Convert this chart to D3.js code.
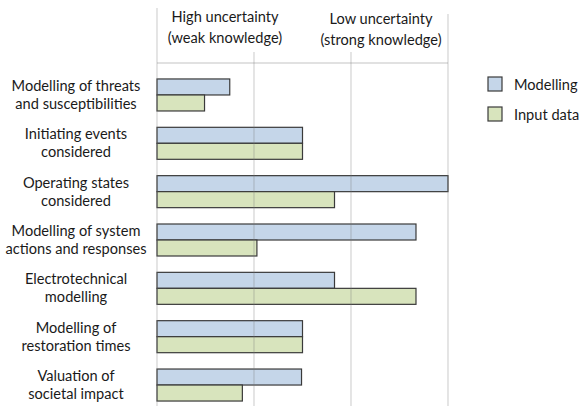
<!DOCTYPE html>
<html>
<head>
<meta charset="utf-8">
<script src="https://cdn.jsdelivr.net/npm/d3@7"></script>
<style>
  html, body { margin: 0; padding: 0; background: #fff; }
  svg { display: block; font-family: Lato, "Open Sans", sans-serif; }
</style>
</head>
<body>
<svg id="chart" width="581" height="406"></svg>
<script>
// Uncertainty assessment per modelling aspect (0 = high uncertainty, 3 = low uncertainty)
const categories = [
  ["Modelling of threats", "and susceptibilities"],
  ["Initiating events", "considered"],
  ["Operating states", "considered"],
  ["Modelling of system", "actions and responses"],
  ["Electrotechnical", "modelling"],
  ["Modelling of", "restoration times"],
  ["Valuation of", "societal impact"]
];
const seriesNames = ["Modelling", "Input data"];
const modellingValues = [0.75, 1.5, 3.0, 2.67, 1.83, 1.5, 1.49];
const inputDataValues = [0.49, 1.5, 1.83, 1.03, 2.67, 1.5, 0.88];
const tickValues = [0, 1, 2, 3];
const headerLeft = ["High uncertainty", "(weak knowledge)"];
const headerRight = ["Low uncertainty", "(strong knowledge)"];

const colors = { "Modelling": "#c5d6e9", "Input data": "#d8e4bd" };
const fontSize = 14.6;

const svg = d3.select("#chart");
const keys = categories.map(c => c.join(" "));
const rows = keys.map((k, i) => ({
  key: k,
  lines: categories[i],
  values: [
    { series: seriesNames[0], value: modellingValues[i] },
    { series: seriesNames[1], value: inputDataValues[i] }
  ]
}));

const x = d3.scaleLinear().domain([0, 3]).range([157, 448]);
const y = d3.scaleBand().domain(keys).range([70.8, 409.2]).paddingInner(0.338).paddingOuter(0.169);
const ySub = d3.scaleBand().domain(seriesNames).range([0, y.bandwidth()]);

const plotTop = 63, plotBottom = 406;

// Bars
const groups = svg.append("g").selectAll("g")
  .data(rows).join("g")
  .attr("transform", d => `translate(0,${y(d.key)})`);

groups.selectAll("rect")
  .data(d => d.values).join("rect")
  .attr("x", x(0))
  .attr("y", d => ySub(d.series))
  .attr("width", d => x(d.value) - x(0))
  .attr("height", ySub.bandwidth())
  .attr("fill", d => colors[d.series])
  .attr("stroke", "#3a3a3a")
  .attr("stroke-width", 1.2);

// Gridlines, drawn over the bars
const grid = svg.append("g").attr("stroke", "rgba(120,120,120,0.3)").attr("stroke-width", 1.3);
const gridTop = v => (v === 0 ? 8 : v === 3 ? 14 : 52);
grid.selectAll("line.v")
  .data(tickValues).join("line")
  .attr("class", "v")
  .attr("x1", d => x(d)).attr("x2", d => x(d))
  .attr("y1", d => gridTop(d)).attr("y2", plotBottom);
grid.append("line")
  .attr("x1", x(0)).attr("x2", x(3))
  .attr("y1", plotTop).attr("y2", plotTop);

// Header annotations
function header(lines, cx, y0) {
  const t = svg.append("text")
    .attr("text-anchor", "middle")
    .attr("font-size", fontSize)
    .attr("fill", "#1a1a1a");
  lines.forEach((s, i) => {
    t.append("tspan").attr("x", cx).attr("y", y0 + i * 21).text(s);
  });
}
header(headerLeft, 225, 22);
header(headerRight, 381, 24);

// Category labels
const labels = svg.append("g")
  .attr("text-anchor", "middle")
  .attr("font-size", fontSize)
  .attr("fill", "#1a1a1a");
labels.selectAll("text")
  .data(rows).join("text")
  .each(function (d) {
    const cy = y(d.key) + y.bandwidth() / 2;
    const t = d3.select(this);
    d.lines.forEach((s, i) => {
      t.append("tspan").attr("x", 76).attr("y", cy - 4 + i * 18).text(s);
    });
  });

// Legend
const legend = svg.append("g").selectAll("g")
  .data(seriesNames).join("g")
  .attr("transform", (d, i) => `translate(488,${77 + i * 30})`);
legend.append("rect")
  .attr("width", 14).attr("height", 14)
  .attr("fill", d => colors[d])
  .attr("stroke", "#3a3a3a")
  .attr("stroke-width", 1.2);
legend.append("text")
  .attr("x", 26).attr("y", 12.5)
  .attr("font-size", fontSize)
  .attr("fill", "#1a1a1a")
  .text(d => d);
</script>
</body>
</html>
